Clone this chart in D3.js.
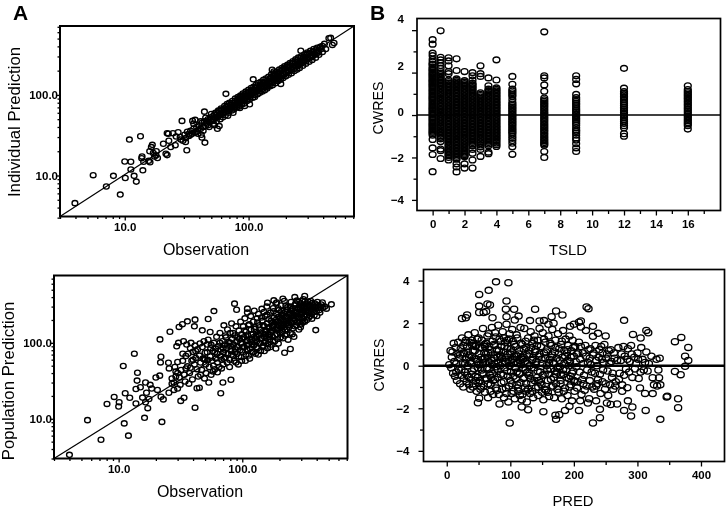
<!DOCTYPE html>
<meta charset="utf-8">
<style>
  body { margin: 0; background: white; }
  svg { display: block; filter: blur(0.35px); }
  text { font-family: "Liberation Sans", Arial, sans-serif; fill: black; }
  .tickLabel { font-size: 11.5px; font-weight: bold; }
  .axisTitle { font-size: 16px; text-anchor: middle; }
  .panelTag { font-size: 21px; font-weight: bold; }
  .frame { fill: none; stroke: black; }
  .dot { fill: none; stroke: black; }
</style>
<body>
<script src="https://cdnjs.cloudflare.com/ajax/libs/d3/7.8.5/d3.min.js"></script>
<script>

// Data

const logMajor = [10, 100]
const logMinor = [3,4,5,6,7,8,9,20,30,40,50,60,70,80,90,200,300,400,500,600,700]

// [observation, individual prediction]
const ipredOutliers = [[3.96,4.54],[5.56,10.1],[7.1,7.3],[8.1,9.9],[9.2,5.8],[10,14.9],[10.1,9.3],[10.9,27.9],[11.2,14.8],[11.2,11.9],[11.9,9.9],[12.4,8.4],[13.4,30.7],[13.8,17.2],[13.7,16.4],[14,11.6],[14.2,14.8],[16.7,24],[16.4,22.5],[15.9,20],[18,20],[16,14.6],[15.6,15.2],[17.4,17.2],[17,19],[17.9,17.8],[18.4,16.5],[20.5,24.8],[21.5,18.6],[22,17.9],[22,33.5],[22.5,33],[24.5,33.5],[22.7,27],[23.5,22.6],[25.6,23.8],[26,30.5],[27,34.5],[29,47.6],[28.4,28],[31.7,20.6],[44.4,25.6],[41.5,32],[42,29.6],[35.3,47.6],[37,49],[65.6,103],[102,76.6],[109,156],[264,354],[182,137],[445,505],[460,510],[475,417],[490,440],[44,62],[48,40],[53,42],[58,41],[56,38],[68,55],[85,69],[93,73],[75,60],[155,205],[160,195],[140,125]]
const ipredBand = [[28,30],[29.5,27],[30.5,32],[31,29],[32,35],[33,31],[34,36],[35,33],[36,38],[37,34],[38,40],[39,36],[40,42],[41,38],[42,45],[43,40],[44,47],[45,41],[46,44],[47,50],[48,46],[49,52],[50,47],[51,54],[52,49],[53,57],[54,52],[55,60],[56,53],[57,55],[58,63],[59,56],[60,58],[61,66],[62,60],[63,59],[64,68],[65,62],[66,70],[67,63],[68,72],[69,66],[70,67],[71,75],[72,69],[73,71],[74,79],[75,72],[76,74],[77,70],[78,84],[79,76],[80,78],[81,86],[82,80],[83,75],[84,90],[85,82],[86,84],[87,94],[88,86],[89,80],[90,98],[91,88],[92,85],[93,101],[94,92],[95,90],[96,105],[97,95],[98,89],[100,108],[101,98],[103,94],[104,112],[105,101],[107,104],[108,116],[110,106],[112,100],[113,122],[115,110],[117,113],[118,128],[120,116],[122,111],[124,133],[125,120],[127,124],[129,118],[130,141],[132,128],[134,125],[136,146],[138,134],[140,131],[142,152],[145,140],[147,136],[150,162],[152,148],[155,144],[157,170],[160,153],[163,158],[165,178],[168,160],[170,152],[173,186],[176,170],[178,165],[180,196],[183,176],[186,170],[188,204],[191,186],[194,180],[196,212],[199,192],[202,187],[205,222],[208,200],[212,196],[215,233],[218,210],[222,204],[225,245],[229,222],[233,212],[237,258],[241,232],[245,225],[249,270],[253,246],[258,236],[262,283],[267,258],[272,250],[277,297],[282,272],[288,262],[293,312],[299,288],[305,280],[311,328],[317,306],[323,296],[330,344],[337,325],[344,315],[352,366],[360,350],[368,336],[376,385],[385,372],[394,405],[300,325],[250,232],[210,225],[175,182],[135,140],[115,122],[95,96],[82,88],[72,76],[60,64],[52,50],[46,47],[38,35],[33,33]]
const ipredExtra = [[31,26],[34,32],[36,44],[39,33],[41,47],[43,36],[45,52],[47,42],[50,58],[52,44],[54,60],[55,47],[57,64],[59,50],[60,68],[62,53],[64,73],[65,56],[67,77],[69,60],[70,80],[73,64],[74,84],[76,66],[78,90],[80,70],[82,94],[84,72],[86,98],[88,76],[90,104],[92,78],[95,110],[97,84],[100,116],[102,88],[105,122],[108,92],[110,126],[112,94],[115,134],[118,102],[120,140],[123,106],[126,146],[129,110],[132,154],[135,114],[138,160],[141,120],[145,168],[149,128],[153,180],[156,132],[160,186],[165,140],[168,194],[172,148],[177,206],[181,154],[186,216],[190,162],[195,226],[200,170],[206,236],[210,178],[216,248],[222,186],[228,262],[234,198],[240,276],[246,206],[252,290],[258,216],[266,300],[274,230],[282,318],[290,244],[298,336],[308,258],[316,352],[326,272],[336,372],[348,290],[358,385],[370,315],[380,395],[395,340],[410,430],[420,370],[355,332],[330,305],[285,290],[245,255],[205,205],[170,172],[150,150],[125,128],[105,110],[85,88],[66,66],[55,56]]

// [observation, population prediction]
const ppredOutliers = [[4,3.35],[5.6,9.6],[7.2,5.3],[8.05,15.7],[9.2,19.4],[10,14.5],[10.1,16.5],[11.1,8.7],[10.9,49.5],[11.3,21.7],[12,6],[12.3,18.9],[13.4,72],[13.8,15.9],[14.1,31.8],[14.2,40.4],[13.8,24.7],[16.2,10.3],[22.4,9.1],[15.6,19],[17.2,13.8],[16.8,22],[17.6,18.2],[16.5,16.5],[15,26],[16.5,30],[18,28],[18.5,25],[21.6,111],[22,65.6],[21.8,55.2],[26,140],[25.3,54.6],[25.6,46],[30.8,162],[32.8,176],[36,192],[41.5,202],[41,165],[47.5,146],[53,206],[59,262],[55,139],[41.5,14],[31.8,17.2],[33.8,18.9],[43,25.2],[45,25.6],[53.6,30],[67,21.7],[69.7,30],[81,32.7],[86.6,328],[90,273],[220,74],[245,83],[187,84],[393,147],[366,208],[480,282],[526,321],[266,400],[320,413],[213,380],[180,362],[160,337],[110,282],[150,255],[190,340],[20,35],[21.5,37],[20.6,24],[22,19.5],[23,18],[25.5,22],[27,29],[28,24],[29,36],[30,25]]
const ppredCloud = [[27,34],[28,30],[28.5,48],[29,42],[29.5,90],[30,56],[30.5,100],[31,35],[31.5,28],[32,44],[33,58],[33.5,105],[34,38],[34.5,31],[35,67],[35.5,95],[36,49],[36.5,72],[37,29],[37.5,40],[38,85],[38.5,100],[39,58],[39.5,33],[40,76],[41,52],[41.5,92],[42,63],[43,45],[43.5,82],[44,36],[45,68],[45.5,98],[46,55],[47,44],[47.5,88],[48,62],[49,105],[49.5,34],[50,74],[50.5,52],[51,40],[52,95],[52.5,60],[53,110],[54,48],[55,66],[55.5,85],[56,38],[57,58],[58,78],[58.5,50],[59,100],[60,45],[61,62],[62,120],[62.5,72],[63,55],[64,90],[65,48],[66,135],[66.5,66],[67,82],[68,60],[69,105],[70,52],[70.5,76],[71,170],[72,95],[73,64],[74,118],[75,85],[75.5,55],[76,150],[77,72],[78,102],[79,60],[80,135],[80.5,90],[81,78],[82,180],[83,112],[84,68],[85,95],[86,58],[87,125],[88,82],[89,165],[90,105],[91,72],[92,88],[93,52],[94,145],[95,112],[96,80],[97,190],[98,65],[99,130],[100,98],[101,76],[102,165],[103,118],[104,88],[105,210],[106,58],[107,140],[108,105],[109,82],[110,250],[111,125],[112,95],[113,68],[114,175],[115,112],[116,84],[117,225],[118,150],[119,102],[120,76],[122,130],[123,190],[124,92],[125,265],[126,115],[127,160],[128,72],[130,140],[131,105],[132,210],[133,85],[135,240],[136,128],[137,170],[138,98],[140,150],[141,78],[142,115],[144,280],[145,195],[146,135],[148,92],[150,165],[151,120],[153,225],[154,105],[156,145],[158,300],[159,180],[160,85],[162,128],[164,205],[165,155],[167,110],[169,250],[170,140],[172,95],[174,185],[176,120],[178,285],[179,165],[181,215],[183,105],[185,150],[187,330],[188,240],[190,130],[192,190],[194,170],[196,98],[198,270],[200,145],[202,210],[204,118],[206,310],[208,175],[210,235],[212,140],[215,195],[217,160],[219,355],[221,125],[223,255],[226,180],[228,215],[230,150],[233,295],[235,110],[238,235],[240,170],[243,200],[245,135],[248,345],[250,265],[253,185],[256,155],[259,225],[262,120],[265,310],[268,200],[271,250],[274,170],[277,360],[280,220],[284,280],[287,150],[290,190],[294,330],[297,240],[300,175],[304,295],[308,210],[312,375],[316,260],[320,190],[325,320],[330,230],[335,285],[340,350],[345,215],[350,265],[356,305],[362,240],[368,335],[375,275],[382,230],[390,300],[398,260],[405,345],[415,290],[425,250],[435,320],[450,290],[465,300]]
const ppredExtra = [[33,72],[38,47],[42,78],[46,38],[49,61],[52,75],[56,94],[58,42],[61,84],[63,41],[66,100],[68,46],[71,62],[73,125],[76,92],[79,48],[82,70],[84,135],[87,75],[89,55],[92,118],[94,66],[97,100],[99,58],[102,88],[104,145],[107,70],[110,108],[112,170],[115,62],[118,130],[120,95],[123,75],[125,152],[128,110],[130,88],[133,185],[135,70],[138,125],[140,100],[143,215],[146,88],[148,170],[151,78],[153,140],[156,115],[159,235],[161,96],[164,160],[166,130],[169,88],[171,195],[174,145],[177,105],[179,260],[182,178],[184,125],[187,200],[190,155],[193,112],[195,285],[197,220],[200,185],[203,135],[206,160],[208,265],[211,205],[213,115],[216,245],[218,178],[222,150],[225,310],[227,195],[229,130],[232,275],[236,210],[239,160],[241,245],[244,300],[247,185],[251,225],[254,130],[257,280],[260,195],[263,250],[266,165],[270,330],[273,225],[276,285],[279,185],[283,240],[286,345],[289,210],[292,270],[296,160],[299,310],[302,235],[306,355],[310,190],[314,285],[318,225],[322,350],[327,265],[332,200],[337,320],[342,250],[348,295],[353,225],[358,355],[365,280],[371,310],[378,255],[386,330],[394,285],[402,225],[410,315],[420,270],[430,300],[445,340],[145,115],[150,100],[155,130],[165,120],[175,165],[185,190],[195,150],[205,215],[215,170],[225,225],[235,180],[245,240],[255,210],[265,230],[275,255],[285,215],[295,290],[305,255],[315,300],[325,280],[335,255],[345,310],[130,120],[120,110],[110,92],[100,112],[90,88],[80,100],[70,85],[60,75],[50,60],[40,60],[35,46],[30,40]]

const tsldMajor = [0,2,4,6,8,10,12,14,16]
const tsldMinor = [1,3,5,7,9,11,13,15,17]
const cwresMajor = [4,2,0,-2,-4]
const cwresMinor = [3,1,-1,-3]
const tsldCwresLabelShift = [-12,-7,-4,0,0]

// one list of CWRES values per TSLD column
const tsldTimes = [0,0.5,1,1.5,2,2.5,3,3.5,4,5,7,9,12,16]
const tsldCwres = [
  [3.55,3.34,2.92,2.8,2.62,2.5,2.38,2.27,2.15,2.03,1.92,1.8,1.68,1.57,1.45,1.33,1.2,1.08,0.95,0.82,0.7,0.55,0.42,0.3,0.18,0.05,-0.08,-0.2,-0.33,-0.45,-0.57,-0.7,-0.82,-0.95,-1.15,-1.55,-1.86,-2.67],
  [3.97,2.72,2.6,2.47,2.33,2.2,2.05,1.9,1.75,1.62,1.48,1.35,1.2,1.05,0.9,0.75,0.6,0.46,0.32,0.18,0.03,-0.12,-0.26,-0.4,-0.55,-0.7,-0.84,-0.98,-1.12,-1.25,-1.6,-1.68,-2.05],
  [2.7,2.55,2.32,2.05,1.95,1.65,1.5,1.36,1.22,1.08,0.95,0.8,0.66,0.52,0.38,0.24,0.1,-0.04,-0.18,-0.32,-0.46,-0.6,-0.74,-0.88,-1.02,-1.16,-1.3,-1.44,-1.58,-1.72,-1.85,-2,-2.12],
  [2.65,2.1,1.7,1.56,1.42,1.28,1.14,1,0.86,0.72,0.58,0.44,0.3,0.16,0.02,-0.12,-0.26,-0.4,-0.54,-0.68,-0.82,-0.96,-1.1,-1.24,-1.38,-1.52,-1.66,-1.8,-1.94,-2.08,-2.3,-2.45,-2.68],
  [2.05,1.62,1.48,1.35,1.2,1.06,0.92,0.78,0.64,0.5,0.36,0.22,0.08,-0.06,-0.2,-0.34,-0.48,-0.62,-0.76,-0.9,-1.04,-1.18,-1.32,-1.46,-1.6,-1.74,-1.86,-1.97,-2.3,-2.5],
  [2,1.85,1.65,1.5,1.36,1.22,1.08,0.94,0.8,0.66,0.52,0.38,0.24,0.1,-0.04,-0.18,-0.32,-0.46,-0.6,-0.74,-0.88,-1.02,-1.16,-1.3,-1.45,-1.62,-1.8,-2.12,-2.5],
  [2.32,1.95,1.82,1.05,0.92,0.78,0.64,0.5,0.36,0.22,0.08,-0.06,-0.2,-0.34,-0.48,-0.62,-0.76,-0.9,-1.04,-1.18,-1.32,-1.5,-1.62,-1.95],
  [1.75,1.38,1.22,1.08,0.94,0.8,0.66,0.52,0.38,0.24,0.1,-0.04,-0.18,-0.32,-0.46,-0.6,-0.74,-0.88,-1.02,-1.16,-1.3,-1.45,-1.75,-1.82],
  [2.6,1.65,1.28,1.14,1,0.86,0.72,0.58,0.44,0.3,0.16,0.02,-0.12,-0.26,-0.4,-0.54,-0.68,-0.82,-0.96,-1.1,-1.24,-1.4,-1.48],
  [1.82,1.45,1.22,1.05,0.88,0.6,0.45,0.3,0.15,0,-0.15,-0.3,-0.45,-0.6,-0.75,-0.9,-1.1,-1.33,-1.5,-1.85],
  [3.92,1.85,1.75,1.42,1.12,0.8,0.65,0.5,0.35,0.2,0.05,-0.1,-0.25,-0.4,-0.55,-0.7,-0.85,-1,-1.15,-1.3,-1.42,-1.72,-2],
  [1.85,1.68,1.47,0.97,0.82,0.65,0.48,0.3,0.15,0,-0.15,-0.3,-0.48,-0.7,-0.85,-1.18,-1.35,-1.55,-1.72],
  [2.2,1.27,1.1,0.95,0.8,0.62,0.45,0.28,0.12,-0.05,-0.22,-0.4,-0.6,-0.88,-1],
  [1.38,1.2,1.05,0.9,0.75,0.6,0.45,0.28,0.12,-0.05,-0.2,-0.35,-0.5,-0.66]
]
// the packed middles of the same columns
const tsldCwresDense = [
  [2.4,2.2,2.1,1.97,1.86,1.74,1.62,1.5,1.39,1.27,1.14,1.01,0.88,0.76,0.62,0.48,0.36,0.24,0.11,-0.01,-0.14,-0.26,-0.39,-0.51,-0.63,-0.76,-0.88],
  [1.97,1.82,1.68,1.55,1.41,1.27,1.12,0.97,0.82,0.67,0.53,0.39,0.25,0.1,-0.05,-0.19,-0.33,-0.47,-0.62,-0.77,-0.91,-1.05],
  [1.58,1.43,1.29,1.15,1.01,0.87,0.73,0.59,0.45,0.31,0.17,0.03,-0.11,-0.25,-0.39,-0.53,-0.67,-0.81,-0.95,-1.09,-1.23,-1.37,-1.51,-1.65,-1.78,-1.92],
  [1.63,1.49,1.35,1.21,1.07,0.93,0.79,0.65,0.51,0.37,0.23,0.09,-0.05,-0.19,-0.33,-0.47,-0.61,-0.75,-0.89,-1.03,-1.17,-1.31,-1.45,-1.59,-1.73,-1.87,-2.01],
  [1.55,1.41,1.27,1.13,0.99,0.85,0.71,0.57,0.43,0.29,0.15,0.01,-0.13,-0.27,-0.41,-0.55,-0.69,-0.83,-0.97,-1.11,-1.25,-1.39,-1.53,-1.67,-1.8,-1.92],
  [1.43,1.29,1.15,1.01,0.87,0.73,0.59,0.45,0.31,0.17,0.03,-0.11,-0.25,-0.39,-0.53,-0.67,-0.81,-0.95,-1.09,-1.23,-1.37],
  [0.98,0.85,0.71,0.57,0.43,0.29,0.15,0.01,-0.13,-0.27,-0.41,-0.55,-0.69,-0.83,-0.97,-1.11,-1.25,-1.41],
  [1.15,1.01,0.87,0.73,0.59,0.45,0.31,0.17,0.03,-0.11,-0.25,-0.39,-0.53,-0.67,-0.81,-0.95,-1.09,-1.23,-1.37],
  [1.21,1.07,0.93,0.79,0.65,0.51,0.37,0.23,0.09,-0.05,-0.19,-0.33,-0.47,-0.61,-0.75,-0.89,-1.03,-1.17,-1.32],
  [1.13,0.96,0.74,0.52,0.37,0.22,0.07,-0.07,-0.22,-0.37,-0.52,-0.67,-0.82,-1,-1.2],
  [0.72,0.57,0.42,0.27,0.12,-0.02,-0.17,-0.32,-0.47,-0.62,-0.77,-0.92,-1.07,-1.22,-1.36],
  [0.73,0.56,0.39,0.22,0.07,-0.07,-0.22,-0.39,-0.6,-0.77,-0.95,-1.08],
  [1.02,0.87,0.71,0.53,0.36,0.2,0.03,-0.13,-0.31,-0.5],
  [1.12,0.97,0.82,0.67,0.52,0.36,0.2,0.03,-0.12,-0.27,-0.42]
]

const predMajor = [0,100,200,300,400]
const predMinor = [50,150,250,350]

// [PRED, CWRES]
const predOutliers = [[77.5,3.94],[97,3.9],[66,3.54],[51,3.35],[94,3.04],[64,2.9],[68,2.85],[51,2.8],[51,2.5],[93,2.65],[106,2.65],[139,2.65],[172,2.57],[182,2.38],[220,2.76],[223,2.68],[279,2.13],[113,2.33],[30,2.25],[24,2.22],[32,2.38],[58,2.5],[62,2.55],[72,2.25],[94,2.3],[107,2.15],[131,2.12],[146,2.1],[153,2.12],[165,2.3],[168,2],[160,1.95],[200,1.95],[194,1.85],[208,2.04],[211,1.82],[211,2.1],[219,1.65],[230,1.85],[230,1.38],[238,1.52],[250,1.4],[293,1.47],[305,1.3],[314,1.66],[317,1.55],[359,1.13],[369,1.33],[380,0.86],[375,0.45],[380,0.25],[375,-0.03],[359,-0.27],[368,-0.42],[364,-1.55],[364,-1.97],[346,-1.47],[347,-1.43],[336,-2.52],[313,-2.1],[290,-2.36],[230,-2.69],[99,-2.69],[241,-2.44],[241,-2.05],[172,-2.52],[171,-2.33],[177,-2.3],[152,-2.16],[128,-2.07],[118,-1.94],[49,-1.74],[51,-1.53],[292,-1.94],[279,-2.1],[285,-1.65],[284,-1.03],[276,-1.2],[324,-0.56],[334,-0.56],[331,-0.95],[324,-1.31],[186,-2.1],[193,-1.9],[208,-2.1],[210,-1.65],[222,-1.75],[235,-1.65],[252,-1.75],[268,-1.8],[258,-1.82]]
const predCloud = [[4,0.05],[6,0.7],[7,-0.1],[8,0.4],[9,0.65],[10,-0.35],[11,1.05],[12,0.2],[13,-0.5],[14,0.85],[15,0.1],[16,-0.7],[17,0.55],[18,1.1],[19,-0.2],[20,0.35],[21,-0.85],[22,0.8],[23,-0.45],[24,1.3],[25,0.15],[26,-1],[27,0.6],[28,-0.3],[29,1.1],[30,0.3],[31,-0.75],[32,0.9],[33,0],[34,1.45],[35,-0.55],[36,0.5],[37,-1.1],[38,0.1],[39,1.2],[40,-0.25],[41,0.7],[42,-0.85],[43,0.35],[44,1.55],[45,-0.5],[46,0.95],[47,-1.2],[48,0.2],[49,-0.1],[50,1.3],[51,0.55],[52,-0.7],[53,0.05],[54,-1],[55,0.85],[56,0.3],[57,1.75],[58,-0.4],[59,0.6],[60,-1.25],[61,0.15],[62,1.05],[63,-0.6],[64,0.4],[65,-1.5],[66,1.5],[67,-0.15],[68,0.75],[69,-0.9],[70,0.25],[71,1.8],[72,-0.35],[73,-1.35],[74,1],[75,0.1],[76,-0.65],[77,1.35],[78,0.5],[79,-1.15],[80,-0.2],[81,1.9],[82,0.7],[83,-1.8],[84,0],[85,1.15],[86,-0.8],[87,0.35],[88,1.6],[89,-0.45],[90,-1.5],[91,0.9],[92,0.2],[93,-1.05],[94,1.95],[95,-0.25],[96,0.55],[97,-1.7],[98,1.25],[99,0],[100,-0.7],[101,0.8],[102,-1.3],[103,1.7],[104,0.3],[105,-0.5],[106,1],[107,-1.55],[108,-0.1],[109,0.5],[110,1.45],[111,-0.9],[112,0.15],[113,-1.2],[114,0.7],[115,-0.35],[116,1.8],[117,0.05],[118,-1.6],[119,1],[120,-0.6],[121,0.4],[122,1.75],[123,-1.05],[124,-0.2],[125,0.85],[126,-1.7],[127,0.1],[128,1.3],[129,-0.45],[130,0.55],[131,-1.3],[132,1.6],[133,-0.8],[134,0.25],[135,1.05],[136,-1.5],[137,-0.1],[138,1.4],[139,0.65],[140,-1.05],[141,0.2],[142,-0.55],[143,1.2],[144,-1.4],[145,0.45],[146,1.75],[147,-0.3],[148,0.9],[149,-0.9],[150,0.1],[151,1.55],[152,-1.6],[153,0.6],[154,-0.4],[155,1.1],[156,-1.15],[157,0],[158,0.75],[159,-0.7],[160,1.4],[161,-1.45],[162,0.3],[163,-0.15],[164,0.95],[165,-1],[166,1.7],[167,0.15],[168,-0.55],[169,-1.5],[170,0.65],[171,1.2],[172,-0.85],[173,0.35],[174,-0.3],[175,1.5],[176,-1.25],[177,0.8],[178,-0.05],[179,-0.7],[180,1],[181,-1.55],[182,0.4],[183,1.65],[184,-0.4],[185,0.1],[186,-1.05],[187,1.25],[188,-0.2],[189,0.6],[190,-1.4],[191,0.95],[192,-0.6],[193,1.4],[194,0.2],[195,-0.9],[196,0.7],[197,-1.65],[198,1.2],[199,-0.25],[200,0.45],[201,-1.2],[202,0.9],[204,-0.05],[206,-0.75],[208,1.1],[210,0.3],[212,-1.35],[214,0.6],[216,-0.45],[218,0.95],[220,-0.95],[222,0.15],[224,-1.55],[226,0.8],[228,-0.3],[230,0.5],[232,-1.1],[234,0.95],[236,0],[238,-0.65],[240,0.75],[242,-1.3],[244,0.3],[246,-0.2],[248,1],[250,-0.85],[252,0.55],[254,-1.4],[256,0.1],[258,0.75],[260,-0.55],[262,-1.1],[264,0.35],[266,-0.75],[270,0.85],[272,-0.35],[274,0.25],[276,-0.9],[278,0.9],[280,0.45],[282,-0.15],[285,0.8],[288,0.2],[290,0.95],[292,-0.55],[295,0.4],[298,0.1],[300,0.6],[302,-0.6],[304,-1.05],[306,0.85],[308,0.3],[310,-0.2],[312,-1.3],[314,0.65],[316,-0.25],[318,0.1],[322,0.45],[326,-0.9],[330,0.3],[333,-0.2],[335,0.35],[336,-0.9],[45,0.9],[55,-0.2],[65,0.6],[75,0.95],[85,0.45],[95,1.2],[105,0.15],[115,-1.4],[125,-1.2],[135,0.3],[145,-0.7],[155,0.35],[165,0.4],[175,-0.1],[185,0.7],[195,-0.5],[205,0.55],[215,-0.85],[225,0.35],[235,-0.95],[245,0.6],[35,0.4],[25,0.6],[15,-0.3],[40,0.95],[50,-0.8],[60,0.9],[70,-0.55],[80,0.4],[90,1.3],[100,0.55],[110,-0.3],[120,0.3],[130,-0.35],[140,0.75],[150,-1.25],[160,-0.4],[170,-0.25],[180,-0.45],[190,0.25],[200,-0.7]]
const predExtra = [[21,0.5],[23,-0.2],[26,0.95],[27,-0.6],[29,0.1],[30,1.2],[32,-0.45],[33,0.65],[35,-0.9],[36,1.1],[37,0.2],[39,-0.4],[40,0.45],[41,-1],[42,1.05],[43,-0.15],[44,0.7],[46,-0.7],[47,0.3],[48,1.25],[49,-0.55],[50,0.05],[52,0.85],[53,-1.1],[54,0.4],[55,1.2],[56,-0.35],[57,0.15],[58,-0.95],[59,1],[60,0.35],[61,-0.6],[62,0.55],[63,-0.1],[64,1.4],[65,-0.85],[66,0.2],[67,0.9],[68,-0.45],[69,-1.2],[70,0.6],[71,0.05],[72,1.15],[73,-0.7],[74,0.35],[75,-0.2],[76,1.55],[77,-1.05],[78,-0.05],[79,0.75],[80,-0.55],[81,0.15],[82,-1.35],[83,1.25],[84,0.5],[85,-0.4],[86,0.9],[87,-1.1],[88,0.1],[89,0.65],[90,-0.75],[91,-0.1],[92,1.1],[93,0.4],[94,-1.3],[95,0.8],[96,-0.5],[97,0.2],[98,-0.95],[99,1.5],[100,0.25],[101,-0.3],[102,0.65],[103,-0.85],[104,1.15],[105,-1.2],[106,0.45],[107,-0.1],[108,0.9],[109,-0.6],[110,0.1],[111,1.3],[112,-1.05],[113,0.55],[114,-0.4],[115,0.25],[116,-0.8],[117,1.05],[118,0.4],[119,-1.35],[120,-0.1],[121,0.8],[122,-0.55],[123,0.2],[124,1.15],[125,-0.85],[126,0.5],[127,-0.3],[128,-1.1],[129,0.7],[130,0],[132,-0.6],[133,0.85],[134,-1.2],[136,0.4],[137,1.2],[138,-0.7],[140,0.05],[142,0.95],[143,-0.25],[144,-1],[146,0.55],[147,-0.8],[149,0.3],[151,-0.45],[153,1.25],[154,-1.1],[156,0.65],[158,-0.2],[159,-1.25],[161,0.15],[163,1.05],[164,-0.65],[166,0.5],[167,-0.95],[169,0.1],[171,0.85],[172,-0.4],[174,-1.1],[176,0.55],[178,0.25],[179,-0.85],[181,1.15],[183,-0.2],[184,-1.2],[186,0.45],[188,-0.55],[190,0.75],[192,0],[193,-1],[195,0.4],[197,-0.35],[199,0.85],[201,-0.75],[203,0.2],[205,-1.05],[207,0.6],[209,-0.3],[211,0.9],[213,-0.65],[215,0.1],[217,-1.15],[219,0.45],[221,-0.2],[223,0.75],[225,-0.7],[227,0.05],[229,-1],[231,0.6],[233,-0.35],[235,0.25],[237,-0.85],[239,0.4],[241,-0.4],[243,0.9],[245,-0.75],[247,0.15],[249,-1.1],[251,0.35],[253,-0.25],[255,0.7],[257,-0.9],[259,0.2],[261,-0.35],[263,0.6],[265,-0.95],[268,0.25],[271,-0.65],[275,0.55],[279,-0.45],[284,0.3],[287,-0.3],[291,0.55],[296,-0.15],[301,0.3],[305,-0.3],[312,0.15]]

// Layout of the four panels

const plots = {
  ipred: {left: 60, right: 354, top: 26, bottom: 216.5},
  ppred: {left: 54, right: 347.5, top: 275.5, bottom: 458.5},
  tsld:  {left: 417, right: 720.5, top: 18.5, bottom: 210.5},
  pred:  {left: 423.5, right: 724.5, top: 269.5, bottom: 461.5}
}

const svg = d3.select("body")
  .append("svg")
    .attr("width", 726)
    .attr("height", 508)

function drawAxis(p, x, y, o) {
  const gx = svg.append("g").attr("transform", `translate(0, ${p.bottom})`)
  const gy = svg.append("g").attr("transform", `translate(${p.left}, 0)`)

  gx.call(d3.axisBottom(x).tickValues(o.xMinor).tickFormat("").tickSize(o.minorSize).tickSizeOuter(0))
  gy.call(d3.axisLeft(y).tickValues(o.yMinor).tickFormat("").tickSize(o.minorSize).tickSizeOuter(0))
  const gx2 = svg.append("g").attr("transform", `translate(0, ${p.bottom})`)
    .call(d3.axisBottom(x).tickValues(o.xMajor).tickFormat(o.format).tickSize(o.majorSize).tickSizeOuter(0))
  const gy2 = svg.append("g").attr("transform", `translate(${p.left}, 0)`)
    .call(d3.axisLeft(y).tickValues(o.yMajor).tickFormat(o.format).tickSize(o.majorSize).tickSizeOuter(0))

  svg.selectAll("g path.domain").remove()
  svg.selectAll("g .tick line").attr("stroke", "black").attr("stroke-width", 1.3)

  gx2.selectAll("text").attr("class", "tickLabel").attr("y", o.xLabelGap).attr("dy", 0)
  gy2.selectAll("text").attr("class", "tickLabel").attr("x", -o.yLabelGap).attr("dy", "0.35em")
  if (o.labelShift) {
    gy2.selectAll("text").attr("y", (d, i) => o.labelShift[i])
  }
}

function drawFrame(p, width) {
  svg.append("rect")
    .attr("class", "frame")
    .attr("x", p.left)
    .attr("y", p.top)
    .attr("width", p.right - p.left)
    .attr("height", p.bottom - p.top)
    .attr("stroke-width", width)
}

function drawDots(data, x, y, rx, ry, sw) {
  svg.append("g").selectAll("ellipse")
    .data(data)
    .enter().append("ellipse")
      .attr("class", "dot")
      .attr("cx", d => x(d[0]))
      .attr("cy", d => y(d[1]))
      .attr("rx", rx)
      .attr("ry", ry)
      .attr("stroke-width", sw)
}

function title(text, tx, ty, size, rotate) {
  svg.append("text")
    .attr("class", "axisTitle")
    .attr("transform", `translate(${tx}, ${ty})` + (rotate ? " rotate(-90)" : ""))
    .style("font-size", size + "px")
    .text(text)
}

function logPanel(p, points) {
  const x = d3.scaleLog().domain([3, 710]).range([p.left, p.right])
  const y = d3.scaleLog().domain(p === plots.ipred ? [3.1, 716] : [3, 770]).range([p.bottom, p.top])

  drawAxis(p, x, y, {
    xMajor: logMajor, yMajor: logMajor, xMinor: logMinor, yMinor: logMinor,
    format: d3.format(".1f"), majorSize: 4, minorSize: 2.5, xLabelGap: 14, yLabelGap: 2
  })

  svg.append("line")
    .attr("x1", p.left).attr("y1", p.bottom)
    .attr("x2", p.right).attr("y2", p.top)
    .attr("stroke", "black")
    .attr("stroke-width", 1.2)

  points.forEach(d => drawDots(d, x, y, 2.9, 2.6, 1.35))
  drawFrame(p, 2)
}

// A, top
logPanel(plots.ipred, [ipredOutliers, ipredBand, ipredExtra])
title("Observation", 206, 255, 16)
title("Individual Prediction", 20, 122, 16.8, true)

// A, bottom
logPanel(plots.ppred, [ppredOutliers, ppredCloud, ppredExtra])
title("Observation", 200, 497, 16)
title("Population Prediction", 14, 381, 16.8, true)

// B, top
const xTsld = d3.scaleLinear().domain([-0.98, 18.05]).range([plots.tsld.left, plots.tsld.right])
const yTsld = d3.scaleLinear().domain([-4.5, 4.55]).range([plots.tsld.bottom, plots.tsld.top])

drawAxis(plots.tsld, xTsld, yTsld, {
  xMajor: tsldMajor, yMajor: cwresMajor, xMinor: tsldMinor, yMinor: cwresMinor,
  format: d3.format("d"), majorSize: 5, minorSize: 3.5, xLabelGap: 17, yLabelGap: 13,
  labelShift: tsldCwresLabelShift
})

const tsldPoints = tsldTimes.flatMap((t, i) => tsldCwres[i].concat(tsldCwresDense[i]).map(v => [t, v]))
drawDots(tsldPoints, xTsld, yTsld, 3.4, 2.9, 1.4)

svg.append("line")
  .attr("x1", plots.tsld.left).attr("x2", plots.tsld.right)
  .attr("y1", yTsld(0)).attr("y2", yTsld(0))
  .attr("stroke", "black").attr("stroke-width", 1.5)
drawFrame(plots.tsld, 1.7)
title("TSLD", 568, 255, 14.8)
title("CWRES", 383, 108, 14.2, true)

// B, bottom
const xPred = d3.scaleLinear().domain([-36.6, 437]).range([plots.pred.left, plots.pred.right])
const yPred = d3.scaleLinear().domain([-4.5, 4.52]).range([plots.pred.bottom, plots.pred.top])

drawAxis(plots.pred, xPred, yPred, {
  xMajor: predMajor, yMajor: cwresMajor, xMinor: predMinor, yMinor: cwresMinor,
  format: d3.format("d"), majorSize: 5, minorSize: 3.5, xLabelGap: 17, yLabelGap: 14
})

drawDots(predOutliers.concat(predCloud, predExtra), xPred, yPred, 3.6, 3.1, 1.3)

svg.append("line")
  .attr("x1", plots.pred.left).attr("x2", plots.pred.right)
  .attr("y1", yPred(0)).attr("y2", yPred(0))
  .attr("stroke", "black").attr("stroke-width", 2.4)
drawFrame(plots.pred, 1.7)
title("PRED", 573, 506, 14.8)
title("CWRES", 384, 365, 14.2, true)

// Panel letters
svg.append("text").attr("class", "panelTag").attr("x", 13).attr("y", 20).text("A")
svg.append("text").attr("class", "panelTag").attr("x", 370).attr("y", 20).text("B")

</script>
</body>
</html>
